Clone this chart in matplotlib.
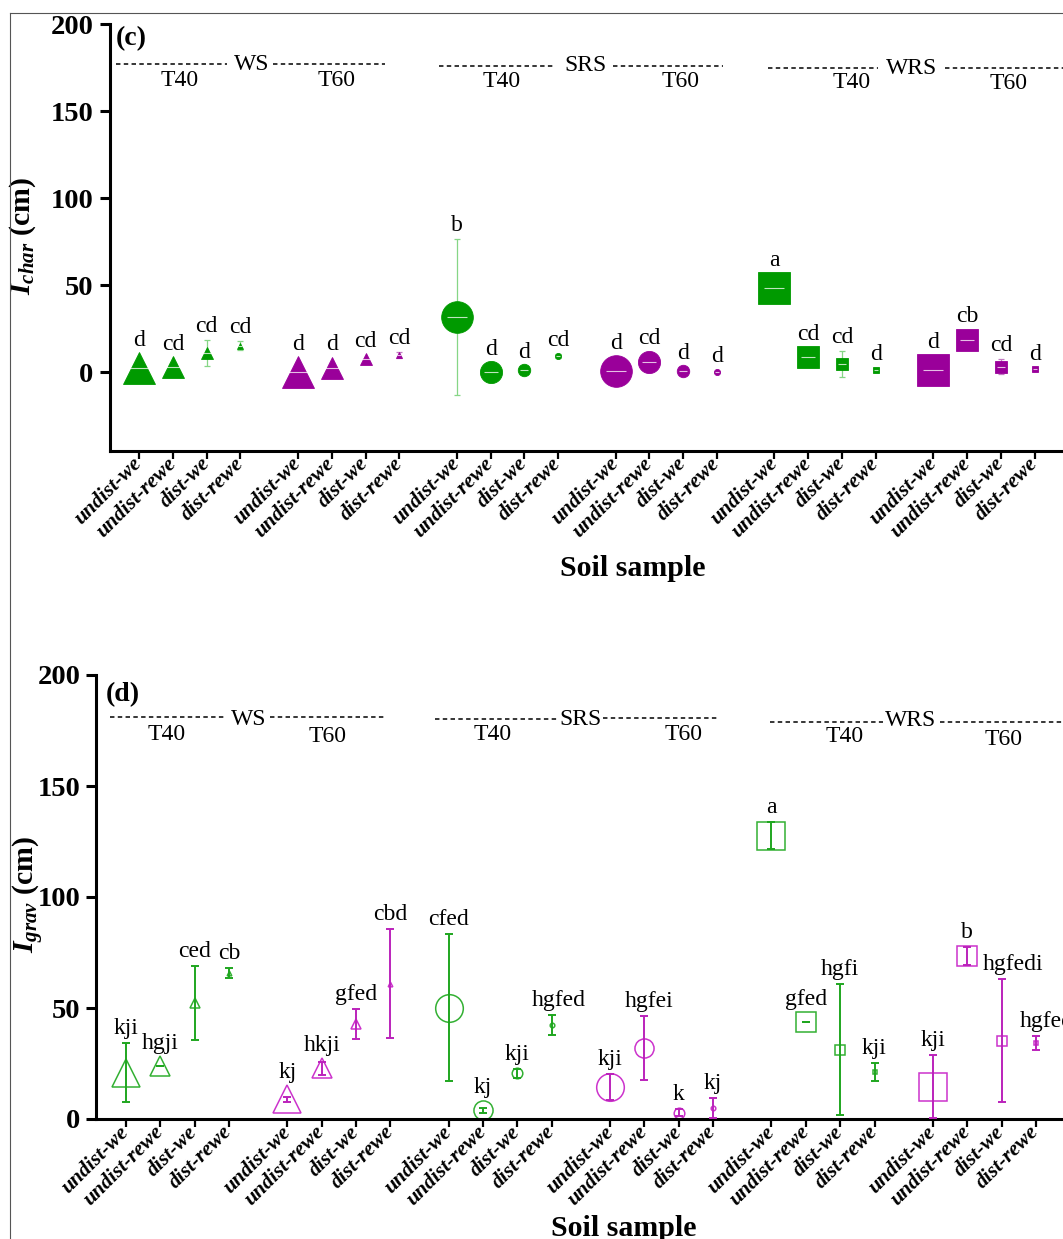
import matplotlib
matplotlib.use("Agg")
import matplotlib.pyplot as plt
from matplotlib.lines import Line2D

plt.rcParams.update({
    "font.family": ["Liberation Serif", "DejaVu Serif"],
    "mathtext.fontset": "custom",
    "mathtext.rm": "Liberation Serif:bold",
    "mathtext.it": "Liberation Serif:bold:italic",
    "mathtext.bf": "Liberation Serif:bold",
    "lines.scale_dashes": False,
})

sample_types = ["undist-we", "undist-rewe", "dist-we", "dist-rewe"]
soil_types = ["WS", "SRS", "WRS"]
tensions = ["T40", "T60"]

# Groups of four samples, in order WS-T40, WS-T60, SRS-T40, SRS-T60, WRS-T40, WRS-T60
char_mean = [
    2.6, 2.9, 11.2, 15.2,
    0.1, 2.6, 7.5, 9.9,
    31.7, 0.1, 1.1, 9.4,
    0.6, 6.1, 0.6, 0.2,
    48.2, 8.8, 4.8, 1.3,
    1.3, 18.7, 3.2, 1.7,
]
char_err = [
    0.0, 0.0, 7.4, 2.5,
    0.0, 0.0, 0.0, 1.5,
    45.0, 0.0, 0.0, 1.0,
    0.0, 0.0, 0.0, 0.0,
    0.0, 0.0, 7.6, 1.0,
    0.0, 0.0, 4.2, 1.0,
]
char_letters = [
    "d", "cd", "cd", "cd",
    "d", "d", "cd", "cd",
    "b", "d", "d", "cd",
    "d", "cd", "d", "d",
    "a", "cd", "cd", "d",
    "d", "cb", "cd", "d",
]

grav_mean = [
    20.8, 23.9, 52.3, 65.6,
    8.8, 22.8, 42.8, 61.0,
    50.2, 3.9, 20.6, 42.3,
    14.4, 32.0, 2.8, 4.8,
    127.7, 43.7, 31.3, 21.2,
    14.6, 73.4, 35.3, 34.3,
]
grav_err = [
    13.3, 0.0, 16.7, 2.3,
    1.0, 3.0, 6.8, 24.4,
    33.1, 1.0, 2.0, 4.5,
    5.9, 14.4, 1.5, 4.5,
    5.9, 0.0, 29.5, 3.9,
    14.3, 4.1, 27.8, 3.0,
]
grav_letters = [
    "kji", "hgji", "ced", "cb",
    "kj", "hkji", "gfed", "cbd",
    "cfed", "kj", "kji", "hgfed",
    "kji", "hgfei", "k", "kj",
    "a", "gfed", "hgfi", "kji",
    "kji", "b", "hgfedi", "hgfed",
]

# ---- layout / style ----
W, H, DPI = 1063, 1239, 100
PX = 72.0 / DPI                      # points per pixel
GROUP_STEP = 4.7
shapes = {"WS": "^", "SRS": "o", "WRS": "s"}

groups = [(s, t) for s in soil_types for t in tensions]
xpos, gshape, gtens = [], [], []
for g, (soil, ten) in enumerate(groups):
    for k in range(len(sample_types)):
        xpos.append(g * GROUP_STEP + k)
        gshape.append(shapes[soil])
        gtens.append(ten)
tick_labels = sample_types * len(groups)

fig = plt.figure(figsize=(W / DPI, H / DPI), dpi=DPI)


def px_box(left, top, right, bottom):
    return [left / W, 1 - bottom / H, (right - left) / W, (bottom - top) / H]


def style_axes(ax, ylim, ytick_len_pt, ypad):
    ax.set_ylim(*ylim)
    ax.set_yticks([0, 50, 100, 150, 200])
    for side in ("top", "right"):
        ax.spines[side].set_visible(False)
    for side in ("left", "bottom"):
        ax.spines[side].set_linewidth(2.2)
    ax.tick_params(axis="y", direction="out", length=ytick_len_pt, width=2.2,
                   pad=ypad, labelsize=20.5)
    ax.tick_params(axis="x", direction="out", length=5.8, width=1.6, pad=1.5)
    for lab in ax.get_yticklabels():
        lab.set_fontweight("bold")
    ax.set_xticks(xpos)
    ax.set_xticklabels(tick_labels, rotation=45, ha="right", va="center",
                       rotation_mode="anchor", fontsize=15.5,
                       fontweight="bold", fontstyle="italic")


def headers(ax, dash_spans, soil_pos, tens_pos, soil_fs=17, tens_fs=17):
    for x0, x1, y in dash_spans:
        ax.plot([x0, x1], [y, y], color="black", lw=1.1,
                dashes=(3.2, 2.4), clip_on=False, zorder=1)
    for name, (x, y) in zip(soil_types, soil_pos):
        ax.text(x, y, name, ha="center", va="center", fontsize=soil_fs)
    for (soil, ten), (x, y) in zip(groups, tens_pos):
        ax.text(x, y, ten, ha="center", va="center", fontsize=tens_fs)


def letters(ax, means, errs, sizes_px, labels, gap_px=1.5, fs=17, nudge=None):
    nudge = nudge or {}
    inv = ax.transData.inverted()
    for i, (x, m, e, t) in enumerate(zip(xpos, means, errs, labels)):
        s = sizes_px[i % 4]
        xd, y_mean = ax.transData.transform((x, m))
        _, y_err = ax.transData.transform((x, m + e))
        top = max(y_err + 2, y_mean + s / 2) + gap_px
        xt, yd = inv.transform((xd + nudge.get(i, 0.0), top))
        ax.text(xt, yd, t, ha="center", va="bottom", fontsize=fs)


# ---------------- panel (c): I_char ----------------
axc = fig.add_axes(px_box(110, 24, 1063.8, 450.7))
axc.set_xlim(-0.86, 27.36)
style_axes(axc, (-45, 200), 7.2, 4.8)

top_colors = {"T40": "#009a00", "T60": "#9a009a"}
top_bar = {"T40": "#86d686", "T60": "#c27ac2"}
top_size_px = [32.5, 23.0, 13.3, 7.0]

for i, x in enumerate(xpos):
    ms = top_size_px[i % 4] * PX - 0.6
    ten = gtens[i]
    axc.errorbar(x, char_mean[i], yerr=char_err[i], fmt="none",
                 ecolor=top_bar[ten], elinewidth=0.9, capsize=2.2,
                 capthick=0.9, zorder=2)
    axc.plot(x, char_mean[i], marker=gshape[i], ms=ms, mfc=top_colors[ten],
             mec=top_colors[ten], mew=0.6, ls="none", zorder=3)
    axc.plot(x, char_mean[i], marker="_", ms=ms * 0.62, mew=0.8,
             color="white", alpha=0.75, ls="none", zorder=4)

headers(axc,
        [(-0.68, 2.59, 176.8), (3.97, 7.28, 176.8),
         (8.86, 12.31, 175.7), (14.03, 17.29, 175.7),
         (18.62, 21.87, 174.5), (23.85, 28.5, 174.5)],
        [(3.33, 176.5), (13.22, 175.9), (22.86, 174.7)],
        [(1.21, 167.8), (5.85, 167.8), (10.73, 166.8),
         (16.03, 166.8), (21.09, 166.2), (25.74, 165.9)])
letters(axc, char_mean, char_err, top_size_px, char_letters, gap_px=1.0)
axc.text(-0.68, 191.7, "(c)", ha="left", va="center", fontsize=20,
         fontweight="bold")

axc.set_ylabel(r"$I_{char}$ (cm)", fontsize=21.5, fontweight="bold")
axc.yaxis.label.set_va("center")
axc.yaxis.set_label_coords(-0.0917, 0.5036)
axc.set_xlabel("Soil sample", fontsize=21.5, fontweight="bold")
axc.xaxis.label.set_va("baseline")
axc.xaxis.set_label_coords(0.548, -0.2937)

# ---------------- panel (d): I_grav ----------------
axd = fig.add_axes(px_box(96, 675, 1065.8, 1119))
axd.set_xlim(-0.87, 27.37)
style_axes(axd, (0, 200), 7.0, 4.1)

bot_colors = {"T40": "#33b033", "T60": "#cc33cc"}
bot_bar = {"T40": "#1fa61f", "T60": "#bb22bb"}
bot_size_px = [29.0, 20.5, 12.0, 6.0]

for i, x in enumerate(xpos):
    ms = bot_size_px[i % 4] * PX - 1.0
    ten = gtens[i]
    axd.plot(x, grav_mean[i], marker=gshape[i], ms=ms, mfc="none",
             mec=bot_colors[ten], mew=1.1, ls="none", zorder=2)
    axd.errorbar(x, grav_mean[i], yerr=grav_err[i], fmt="none",
                 ecolor=bot_bar[ten], elinewidth=1.4, capsize=2.8,
                 capthick=1.4, zorder=3)

headers(axd,
        [(-0.47, 2.88, 181.0), (4.19, 7.54, 181.0),
         (9.0, 12.54, 180.0), (13.9, 17.2, 180.5),
         (18.75, 22.04, 179.0), (23.72, 28.5, 179.0)],
        [(3.58, 179.9), (13.24, 179.9), (22.85, 179.5)],
        [(1.18, 173.4), (5.86, 172.5), (10.68, 173.0),
         (16.23, 173.0), (20.94, 172.5), (25.55, 171.0)])
# long letter groups sit slightly right of their marker
letters(axd, grav_mean, grav_err, bot_size_px, grav_letters, gap_px=2.0,
        nudge={11: 7, 13: 5, 22: 11, 23: 11})
axd.text(-0.6, 191.0, "(d)", ha="left", va="center", fontsize=20,
         fontweight="bold")

axd.set_ylabel(r"$I_{grav}$ (cm)", fontsize=21.5, fontweight="bold")
axd.yaxis.label.set_va("center")
axd.yaxis.set_label_coords(-0.0701, 0.506)
axd.set_xlabel("Soil sample", fontsize=21.5, fontweight="bold")
axd.xaxis.label.set_va("baseline")
axd.xaxis.set_label_coords(0.544, -0.2635)

# thin outer frame of the figure
fx, fy = 9.5 / W, 1 - 12.5 / H
fig.add_artist(Line2D([fx, 1.0], [fy, fy], transform=fig.transFigure,
                      color="#555555", lw=0.8))
fig.add_artist(Line2D([fx, fx], [0.0, fy], transform=fig.transFigure,
                      color="#555555", lw=0.8))

fig.savefig("out.png", dpi=DPI)
